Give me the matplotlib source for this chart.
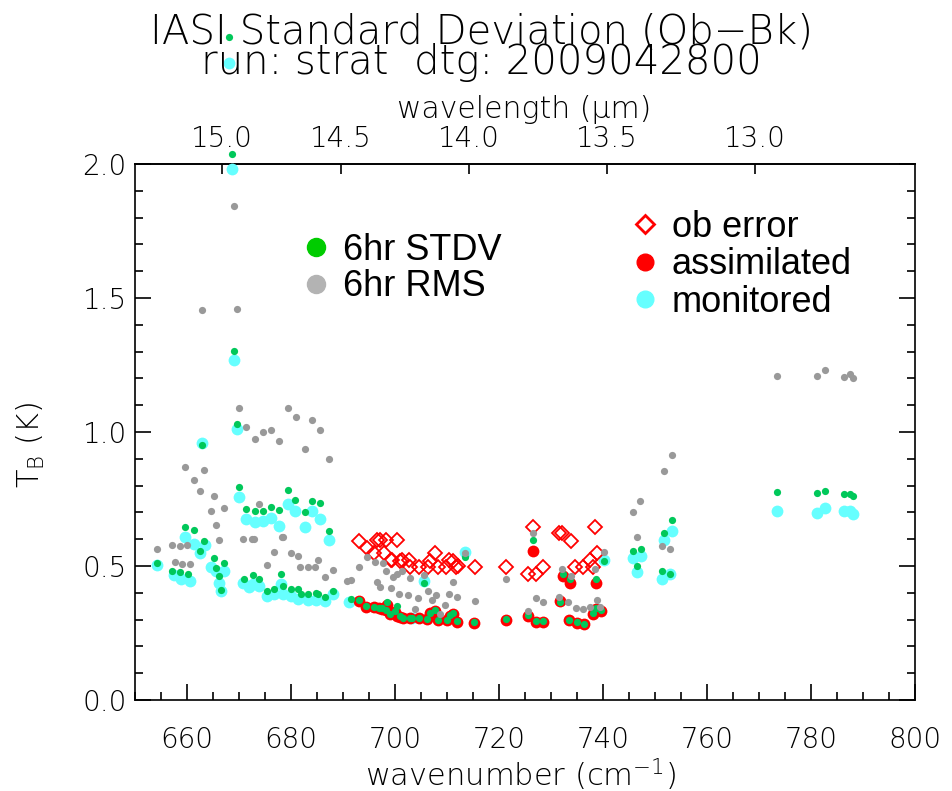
import numpy as np
import matplotlib
matplotlib.use('Agg')
import matplotlib.pyplot as plt
from matplotlib.lines import Line2D

# 6hr RMS (gray)
rms_wn = [654.3, 657.1, 658.6, 660.0, 657.6, 659.1, 660.6, 659.6, 661.3, 662.4,
          663.3, 662.8, 665.1, 664.6, 667.1, 665.6, 666.1, 669.1, 669.6, 670.0,
          670.8, 671.3, 672.4, 672.8, 673.1, 673.8, 674.6, 675.3, 676.1, 676.8,
          677.6, 678.2, 678.5, 679.4, 680.0, 680.9, 681.4, 681.8, 682.6, 683.3,
          684.1, 684.6, 685.1, 685.6, 686.5, 687.3, 688.1, 690.7, 691.5, 693.1,
          694.6, 696.2, 696.5, 697.2, 697.7, 698.3, 699.2, 699.7, 700.3, 700.8,
          701.3, 702.4, 702.9, 703.8, 704.5, 705.6, 706.3, 707.1, 707.8, 708.6,
          709.7, 710.3, 711.1, 712.0, 713.5, 715.3, 721.3, 725.5, 726.5, 727.1,
          728.5, 731.6, 732.2, 733.3, 733.8, 734.8, 736.2, 737.4, 738.5, 738.8,
          739.4, 740.1, 745.8, 746.5, 747.2, 751.3, 751.8, 752.8, 753.3, 773.5,
          781.2, 782.7, 786.3, 787.5, 788.0]
rms_val = [0.562, 0.578, 0.576, 0.580, 0.516, 0.507, 0.507, 0.868, 0.822, 0.781,
           0.860, 1.457, 0.760, 0.704, 0.715, 0.653, 0.598, 1.843, 1.458, 1.089,
           0.600, 1.017, 0.601, 0.602, 0.975, 0.731, 1.000, 0.505, 1.008, 0.554,
           0.968, 0.609, 0.609, 1.089, 0.547, 1.058, 0.538, 0.498, 0.937, 0.495,
           1.045, 0.498, 0.522, 1.006, 0.460, 0.900, 0.485, 0.445, 0.447, 0.495,
           0.535, 0.516, 0.439, 0.422, 0.510, 0.482, 0.418, 0.460, 0.472, 0.397,
           0.480, 0.393, 0.455, 0.341, 0.382, 0.467, 0.405, 0.373, 0.393, 0.320,
           0.355, 0.395, 0.439, 0.386, 0.547, 0.370, 0.452, 0.333, 0.625, 0.379,
           0.366, 0.385, 0.489, 0.364, 0.464, 0.345, 0.339, 0.348, 0.489, 0.373,
           0.348, 0.553, 0.702, 0.608, 0.743, 0.573, 0.855, 0.562, 0.915, 1.209,
           1.209, 1.230, 1.207, 1.215, 1.201]

# 6hr STDV (green)
std_wn = [654.3, 657.1, 658.6, 660.1, 659.6, 661.3, 662.4, 662.8, 663.3, 665.1,
          665.6, 666.1, 666.5, 667.1, 668.1, 668.6, 669.1, 669.6, 670.0, 671.0,
          671.3, 672.6, 673.1, 673.8, 674.6, 675.3, 676.1, 676.8, 677.6, 678.1,
          678.5, 679.4, 680.0, 680.8, 681.3, 681.9, 682.6, 683.3, 684.0, 684.8,
          685.2, 685.6, 686.5, 687.3, 688.1, 691.5,
          693.1, 694.5, 695.9, 696.9, 697.5, 698.2, 698.5, 699.0, 700.0, 700.3,
          701.0, 701.6, 702.8, 703.2, 704.6, 705.5, 706.2, 706.8, 707.6, 708.3,
          709.9, 710.6, 711.2, 712.0, 713.5, 715.2, 721.3, 725.5, 726.5, 727.1,
          728.5, 731.7, 732.3, 733.5, 733.7, 734.9, 736.3, 738.1, 738.6, 738.7,
          739.6, 740.1, 745.8, 746.5, 747.3, 751.3, 751.8, 752.8, 753.3, 773.5,
          781.2, 782.7, 786.3, 787.5, 788.0]
std_val = [0.513, 0.480, 0.476, 0.472, 0.644, 0.634, 0.556, 0.953, 0.592, 0.531,
           0.493, 0.462, 0.411, 0.510, 2.475, 2.037, 1.302, 1.030, 0.794, 0.450,
           0.711, 0.467, 0.704, 0.451, 0.704, 0.405, 0.719, 0.414, 0.709, 0.470,
           0.424, 0.785, 0.414, 0.748, 0.414, 0.395, 0.703, 0.395, 0.741, 0.399,
           0.395, 0.735, 0.385, 0.632, 0.405, 0.376,
           0.372, 0.350, 0.348, 0.345, 0.343, 0.337, 0.364, 0.322, 0.333, 0.351,
           0.312, 0.307, 0.307, 0.307, 0.307, 0.435, 0.304, 0.326, 0.336, 0.299,
           0.299, 0.318, 0.324, 0.295, 0.532, 0.291, 0.301, 0.316, 0.597, 0.295,
           0.295, 0.365, 0.472, 0.300, 0.450, 0.291, 0.285, 0.324, 0.451, 0.345,
           0.336, 0.520, 0.556, 0.500, 0.562, 0.481, 0.624, 0.470, 0.672, 0.778,
           0.773, 0.781, 0.769, 0.769, 0.763]

# monitored channels (cyan)
mon_wn = [654.3, 657.4, 658.9, 660.6, 659.6, 661.3, 662.4, 662.8, 663.4, 664.7,
          665.6, 666.1, 666.5, 667.1, 668.1, 668.6, 669.1, 669.6, 670.0, 670.8,
          671.3, 672.0, 672.6, 673.1, 673.8, 674.6, 675.3, 676.1, 676.8, 677.6,
          678.1, 678.5, 679.4, 680.0, 680.8, 681.3, 682.6, 683.3, 684.0, 684.8,
          685.6, 686.5, 687.3, 688.1, 691.2, 703.2, 705.5, 713.5, 740.1, 745.8,
          746.5, 747.3, 751.3, 751.8, 752.8, 753.3, 773.5, 781.2, 782.7, 786.3,
          787.5, 788.0]
mon_val = [0.505, 0.467, 0.451, 0.446, 0.607, 0.582, 0.547, 0.958, 0.578, 0.498,
           0.480, 0.436, 0.406, 0.482, 2.378, 1.980, 1.270, 1.010, 0.759, 0.435,
           0.677, 0.420, 0.432, 0.663, 0.424, 0.667, 0.389, 0.681, 0.395, 0.650,
           0.432, 0.395, 0.731, 0.389, 0.704, 0.376, 0.644, 0.374, 0.707, 0.374,
           0.675, 0.370, 0.597, 0.395, 0.366, 0.307, 0.445, 0.553, 0.522, 0.530,
           0.478, 0.537, 0.450, 0.596, 0.470, 0.629, 0.707, 0.698, 0.715, 0.704,
           0.704, 0.696]

# assimilated channels (red)
asm_wn = [693.1, 694.5, 695.9, 696.9, 697.5, 698.2, 698.5, 699.0, 700.0, 700.3,
          701.0, 701.6, 702.8, 704.6, 706.2, 706.8, 707.6, 708.3, 709.9, 710.6,
          711.2, 712.0, 715.2, 721.3, 725.5, 726.5, 727.1, 728.5, 731.7, 732.3,
          733.5, 733.7, 734.9, 736.3, 738.1, 738.6, 738.7, 739.6]
asm_val = [0.368, 0.348, 0.346, 0.343, 0.341, 0.335, 0.355, 0.320, 0.330, 0.314,
           0.309, 0.305, 0.305, 0.305, 0.302, 0.324, 0.334, 0.297, 0.297, 0.314,
           0.320, 0.293, 0.289, 0.299, 0.314, 0.557, 0.293, 0.293, 0.370, 0.462,
           0.298, 0.437, 0.289, 0.283, 0.320, 0.435, 0.339, 0.333]

# ob error (red diamonds)
err_wn = [693.1, 694.6, 696.0, 696.5, 697.1, 697.9, 698.3, 699.2, 699.5, 700.3,
          701.0, 701.3, 702.6, 702.8, 704.6, 706.4, 706.7, 707.7, 708.3, 709.8,
          710.3, 711.1, 711.7, 712.2, 715.4, 721.3, 725.5, 726.5, 727.1, 728.5,
          731.5, 732.2, 733.8, 734.7, 736.2, 737.5, 738.0, 738.8, 738.5]
err_val = [0.594, 0.569, 0.549, 0.597, 0.597, 0.547, 0.597, 0.522, 0.522, 0.597,
           0.520, 0.522, 0.522, 0.495, 0.495, 0.495, 0.520, 0.547, 0.495, 0.495,
           0.522, 0.520, 0.495, 0.501, 0.495, 0.495, 0.472, 0.647, 0.472, 0.497,
           0.622, 0.622, 0.594, 0.497, 0.495, 0.522, 0.495, 0.547, 0.647]

wl_ticks = [15.0, 14.5, 14.0, 13.5, 13.0]

hershey = 'DejaVu Sans'
arial = 'Liberation Sans'
thin = 'light'
plt.rcParams['mathtext.fontset'] = 'custom'
plt.rcParams['mathtext.rm'] = 'DejaVu Sans:weight=light'
plt.rcParams['mathtext.it'] = 'DejaVu Sans:weight=light:style=italic'

fig = plt.figure(figsize=(9.53, 7.91), dpi=100)
ax = fig.add_axes([0.1417, 0.115, 0.8185, 0.6776])

ax.plot(mon_wn, mon_val, 'o', color='#66ffff', markersize=8.5, markeredgewidth=0,
        clip_on=False, zorder=3)
ax.plot(asm_wn, asm_val, 'o', color='#ff0000', markersize=8.5, markeredgewidth=0,
        clip_on=False, zorder=3)
ax.plot(err_wn, err_val, 'D', markerfacecolor='none', markeredgecolor='#ff0000',
        markersize=7, markeredgewidth=1.3, clip_on=False, zorder=4)
ax.plot(std_wn, std_val, 'o', color='#00c85a', markersize=5.2, markeredgewidth=0,
        clip_on=False, zorder=5)
ax.plot(rms_wn, rms_val, 'o', color='#999999', markersize=5.2, markeredgewidth=0,
        clip_on=False, zorder=6)

ax.set_xlim(650, 800)
ax.set_ylim(0, 2.0)
ax.set_xticks(np.arange(660, 801, 20))
ax.set_xticks(np.arange(650, 801, 5), minor=True)
ax.set_yticks(np.arange(0, 2.01, 0.5))
ax.set_yticks(np.arange(0, 2.01, 0.1), minor=True)
ax.yaxis.set_major_formatter(matplotlib.ticker.FormatStrFormatter('%.1f'))
ax.tick_params(axis='both', which='both', direction='in', top=False, right=True,
               width=1.2, labelsize=20)
ax.tick_params(axis='y', which='major', length=11.5, pad=6)
ax.tick_params(axis='y', which='minor', length=5.8)
ax.tick_params(axis='x', which='major', length=11.5, pad=19)
ax.tick_params(axis='x', which='minor', length=5.8)
for lab in ax.get_xticklabels() + ax.get_yticklabels():
    lab.set_family(hershey)
    lab.set_fontweight(thin)
for sp in ax.spines.values():
    sp.set_linewidth(1.2)

secax = ax.secondary_xaxis('top', functions=(lambda x: 1e4 / np.maximum(x, 1e-6),
                                             lambda x: 1e4 / np.maximum(x, 1e-6)))
secax.set_xticks(wl_ticks)
secax.set_xticklabels(['%.1f' % w for w in wl_ticks], family=hershey, fontsize=20,
                      fontweight=thin)
secax.tick_params(axis='x', which='major', direction='in', length=7, width=1.2, pad=8)
secax.tick_params(axis='x', which='minor', length=0)
secax.spines['top'].set_linewidth(1.2)

fig.text(0.505, 0.9406, 'IASI Standard Deviation (Ob\u2212Bk)\nrun: strat  dtg: 2009042800',
         ha='center', va='center', multialignment='center', linespacing=0.72,
         fontsize=29, family=hershey, fontweight=thin)
fig.text(0.55, 0.861, 'wavelength (\u00b5m)', ha='center', va='center',
         fontsize=21.5, family=hershey, fontweight=thin)
fig.text(0.546, 0.021, 'wavenumber (cm$^{-1}$)', ha='center', va='center',
         fontsize=22, family=hershey, fontweight=thin)
fig.text(0.032, 0.437, 'T$_\\mathrm{B}$ (K)', ha='center', va='center', rotation=90,
         fontsize=22, family=hershey, fontweight=thin)

h1 = [Line2D([], [], linestyle='none', marker='o', markersize=13, color='#00cc00'),
      Line2D([], [], linestyle='none', marker='o', markersize=13, color='#b3b3b3')]
leg1 = ax.legend(h1, ['6hr STDV', '6hr RMS'], loc='upper left',
                 bbox_to_anchor=(0.214, 0.872), frameon=False, handlelength=0.8,
                 handletextpad=0.35, borderpad=0, borderaxespad=0, labelspacing=0.05,
                 prop={'family': arial, 'size': 26})
ax.add_artist(leg1)
h2 = [Line2D([], [], linestyle='none', marker='D', markersize=9, markerfacecolor='none',
             markeredgecolor='#ff0000', markeredgewidth=2),
      Line2D([], [], linestyle='none', marker='o', markersize=12, color='#ff0000'),
      Line2D([], [], linestyle='none', marker='o', markersize=12, color='#66ffff')]
ax.legend(h2, ['ob error', 'assimilated', 'monitored'], loc='upper left',
          bbox_to_anchor=(0.635, 0.915), frameon=False, handlelength=0.8,
          handletextpad=0.35, borderpad=0, borderaxespad=0, labelspacing=0.07,
          prop={'family': arial, 'size': 26})

fig.savefig('out.png', dpi=100)
